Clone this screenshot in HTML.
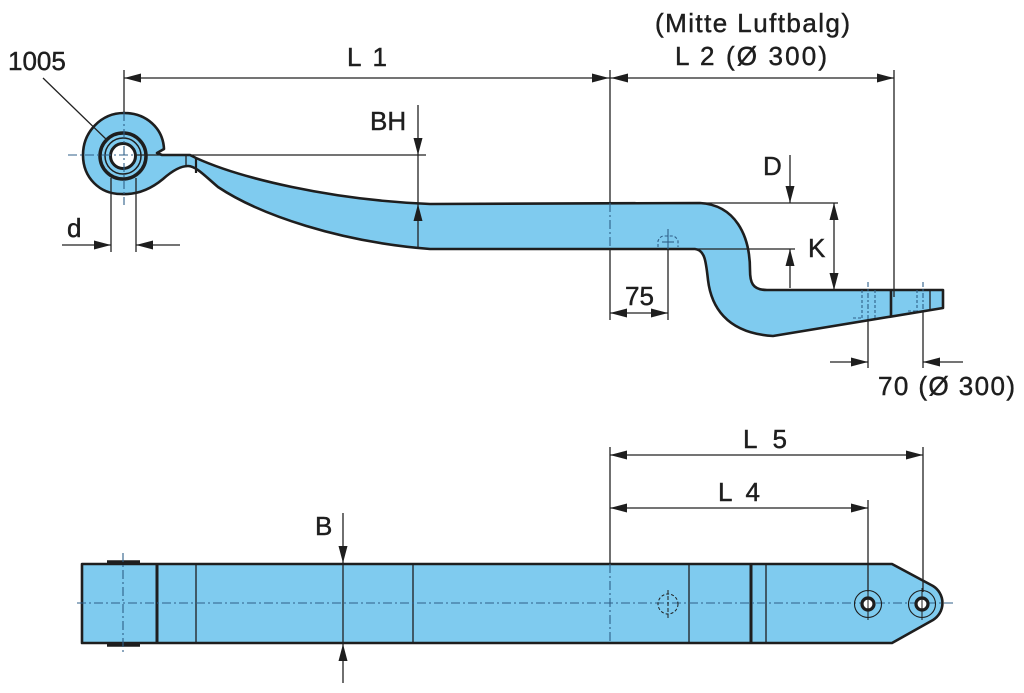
<!DOCTYPE html>
<html><head><meta charset="utf-8"><style>
html,body{margin:0;padding:0;background:#fff;}
svg{display:block;}
text{font-family:"Liberation Sans",Arial,sans-serif;fill:#1e1e1e;stroke:#1e1e1e;stroke-width:0.45;}
</style></head><body>
<svg width="1024" height="693" viewBox="0 0 1024 693" xmlns="http://www.w3.org/2000/svg">
<!-- ===== TOP VIEW ===== -->
<path d="M164 149 C163 128 146 113 124 113 C101 113 83 132 83 155 C83 178 100 194 121 194 C137 195 151 189 163 179 C172 171 180 166 188 166 C196 166 205 176 218 187 C260 215 340 242 430 249 L695 249 C705 250 706 262 708 280 C711 305 725 333 773 336 L943 308 L943 290 L767 290 C752 290 750 282 750 270 C750 235 735 205 700 203 L430 204 C330 200 240 178 196 158 L190 155 L162 155 L157 153 Z" fill="#7fcbef" stroke="#1e1e1e" stroke-width="2.6" stroke-linejoin="round"/>
<!-- bushing -->
<circle cx="123" cy="156" r="23" fill="#7fcbef" stroke="#1e1e1e" stroke-width="3.5"/>
<circle cx="123" cy="156" r="18" fill="none" stroke="#1e1e1e" stroke-width="1.5"/>
<circle cx="123" cy="156" r="12.5" fill="#fff" stroke="#1e1e1e" stroke-width="3"/>
<!-- neck section lines -->
<line x1="186" y1="155" x2="186" y2="167" stroke="#1e1e1e" stroke-width="1.3"/>
<line x1="196" y1="158" x2="196" y2="173" stroke="#1e1e1e" stroke-width="2.2"/>
<!-- eye centre lines -->
<line x1="68" y1="155" x2="150" y2="155" stroke="#2f5f88" stroke-width="1.1" stroke-dasharray="9 3 2 3"/>
<line x1="124" y1="112" x2="124" y2="205" stroke="#2f5f88" stroke-width="1.1" stroke-dasharray="9 3 2 3"/>
<line x1="124" y1="70" x2="124" y2="112" stroke="#222" stroke-width="1.3"/>
<!-- 1005 leader -->
<line x1="43" y1="78" x2="108" y2="141" stroke="#222" stroke-width="1.3"/>
<!-- d dimension -->
<line x1="111" y1="178" x2="111" y2="252" stroke="#222" stroke-width="1.3"/>
<line x1="136" y1="178" x2="136" y2="252" stroke="#222" stroke-width="1.3"/>
<line x1="62" y1="245" x2="111" y2="245" stroke="#222" stroke-width="1.3"/>
<line x1="136" y1="245" x2="180" y2="245" stroke="#222" stroke-width="1.3"/>
<polygon points="111,245 94,240.5 94,249.5" fill="#1e1e1e"/>
<polygon points="136,245 153,240.5 153,249.5" fill="#1e1e1e"/>
<!-- L1 / L2 -->
<line x1="124" y1="78" x2="894" y2="78" stroke="#222" stroke-width="1.3"/>
<polygon points="124,78 141,73.5 141,82.5" fill="#1e1e1e"/>
<polygon points="609,78 592,73.5 592,82.5" fill="#1e1e1e"/>
<polygon points="611,78 628,73.5 628,82.5" fill="#1e1e1e"/>
<polygon points="894,78 877,73.5 877,82.5" fill="#1e1e1e"/>
<line x1="610" y1="70" x2="610" y2="203" stroke="#222" stroke-width="1.3"/>
<line x1="610" y1="203" x2="610" y2="249" stroke="#2f5f88" stroke-width="1.1" stroke-dasharray="9 3 2 3"/>
<line x1="610" y1="249" x2="610" y2="320" stroke="#222" stroke-width="1.3"/>
<line x1="894" y1="70" x2="894" y2="297" stroke="#222" stroke-width="1.3"/>
<!-- BH -->
<line x1="135" y1="155" x2="426" y2="155" stroke="#222" stroke-width="1.3"/>
<line x1="418" y1="105" x2="418" y2="248" stroke="#222" stroke-width="1.3"/>
<polygon points="418,155 413.5,138 422.5,138" fill="#1e1e1e"/>
<polygon points="418,204 413.5,221 422.5,221" fill="#1e1e1e"/>
<!-- hole marker top view -->
<path d="M658 247 L658 241 Q660 236 664 236 L672 236 Q676 236 678 241 L678 247" fill="none" stroke="#2f5f88" stroke-width="1.1" stroke-dasharray="3 2"/>
<line x1="668" y1="229" x2="668" y2="249" stroke="#2f5f88" stroke-width="1.1"/>
<line x1="662" y1="242" x2="674" y2="242" stroke="#2f5f88" stroke-width="1.1"/>
<!-- 75 -->
<line x1="668" y1="249" x2="668" y2="320" stroke="#222" stroke-width="1.3"/>
<line x1="610" y1="313" x2="668" y2="313" stroke="#222" stroke-width="1.3"/>
<polygon points="610,313 627,308.5 627,317.5" fill="#1e1e1e"/>
<polygon points="668,313 651,308.5 651,317.5" fill="#1e1e1e"/>
<!-- D / K -->
<line x1="700" y1="203" x2="838" y2="203" stroke="#222" stroke-width="1.3"/>
<line x1="695" y1="249" x2="795" y2="249" stroke="#222" stroke-width="1.3"/>
<line x1="790" y1="155" x2="790" y2="203" stroke="#222" stroke-width="1.3"/>
<polygon points="790,203 785.5,186 794.5,186" fill="#1e1e1e"/>
<line x1="790" y1="249" x2="790" y2="288" stroke="#222" stroke-width="1.3"/>
<polygon points="790,249 785.5,266 794.5,266" fill="#1e1e1e"/>
<line x1="834" y1="203" x2="834" y2="290" stroke="#222" stroke-width="1.3"/>
<polygon points="834,203 829.5,220 838.5,220" fill="#1e1e1e"/>
<polygon points="834,290 829.5,273 838.5,273" fill="#1e1e1e"/>
<!-- right end section details -->
<line x1="891" y1="290" x2="891" y2="316" stroke="#1e1e1e" stroke-width="2.6"/>
<line x1="862" y1="290" x2="862" y2="318" stroke="#2f5f88" stroke-width="1.1" stroke-dasharray="3 2"/>
<line x1="875" y1="290" x2="875" y2="318" stroke="#2f5f88" stroke-width="1.1" stroke-dasharray="3 2"/>
<line x1="853" y1="318" x2="862" y2="318" stroke="#2f5f88" stroke-width="1.1" stroke-dasharray="3 2"/>
<line x1="868" y1="282" x2="868" y2="319" stroke="#2f5f88" stroke-width="1.1" stroke-dasharray="5 2 2 2"/>
<line x1="917" y1="290" x2="917" y2="311" stroke="#2f5f88" stroke-width="1.1" stroke-dasharray="3 2"/>
<line x1="930" y1="290" x2="930" y2="310" stroke="#1e1e1e" stroke-width="1.3"/>
<line x1="908" y1="311" x2="917" y2="311" stroke="#2f5f88" stroke-width="1.1" stroke-dasharray="3 2"/>
<line x1="923" y1="282" x2="923" y2="311" stroke="#2f5f88" stroke-width="1.1" stroke-dasharray="5 2 2 2"/>
<!-- 70 -->
<line x1="868" y1="319" x2="868" y2="368" stroke="#222" stroke-width="1.3"/>
<line x1="923" y1="311" x2="923" y2="368" stroke="#222" stroke-width="1.3"/>
<line x1="830" y1="362" x2="868" y2="362" stroke="#222" stroke-width="1.3"/>
<line x1="923" y1="362" x2="963" y2="362" stroke="#222" stroke-width="1.3"/>
<polygon points="868,362 851,357.5 851,366.5" fill="#1e1e1e"/>
<polygon points="923,362 940,357.5 940,366.5" fill="#1e1e1e"/>

<!-- ===== BOTTOM VIEW ===== -->
<path d="M82 564 L892 564 L933 586 A20 20 0 0 1 933 620 L892 643 L82 643 Z" fill="#7fcbef" stroke="#1e1e1e" stroke-width="2.6" stroke-linejoin="round"/>
<line x1="107" y1="562" x2="140" y2="562" stroke="#1e1e1e" stroke-width="3.5"/>
<line x1="107" y1="645" x2="140" y2="645" stroke="#1e1e1e" stroke-width="3.5"/>
<line x1="157" y1="564" x2="157" y2="643" stroke="#1e1e1e" stroke-width="3"/>
<line x1="196" y1="564" x2="196" y2="643" stroke="#1e1e1e" stroke-width="1.3"/>
<line x1="413" y1="564" x2="413" y2="643" stroke="#1e1e1e" stroke-width="1.3"/>
<line x1="689" y1="564" x2="689" y2="643" stroke="#1e1e1e" stroke-width="1.3"/>
<line x1="751" y1="564" x2="751" y2="643" stroke="#1e1e1e" stroke-width="3"/>
<line x1="766" y1="564" x2="766" y2="643" stroke="#1e1e1e" stroke-width="1.3"/>
<line x1="123" y1="553" x2="123" y2="655" stroke="#2f5f88" stroke-width="1.1" stroke-dasharray="9 3 2 3"/>
<line x1="77" y1="603" x2="956" y2="603" stroke="#2f5f88" stroke-width="1.1" stroke-dasharray="9 3 2 3"/>
<!-- B -->
<line x1="343" y1="513" x2="343" y2="683" stroke="#222" stroke-width="1.3"/>
<polygon points="343,563 338.5,546 347.5,546" fill="#1e1e1e"/>
<polygon points="343,644 338.5,661 347.5,661" fill="#1e1e1e"/>
<!-- hole marker -->
<circle cx="668" cy="604" r="10" fill="none" stroke="#1e1e1e" stroke-width="1" stroke-dasharray="3 2"/>
<line x1="668" y1="590" x2="668" y2="618" stroke="#1e1e1e" stroke-width="1" stroke-dasharray="4 2"/>
<!-- holes -->
<g stroke="#1e1e1e">
<circle cx="868" cy="604" r="13.5" fill="none" stroke-width="1.1"/>
<circle cx="868" cy="604" r="6" fill="#fff" stroke-width="3.2"/>
<circle cx="922" cy="604" r="13.5" fill="none" stroke-width="1.1"/>
<circle cx="922" cy="604" r="6" fill="#fff" stroke-width="3.2"/>
<line x1="868" y1="588" x2="868" y2="620" stroke-width="1"/>
<line x1="922" y1="588" x2="922" y2="620" stroke-width="1"/>
</g>
<!-- L4 / L5 -->
<line x1="610" y1="447" x2="610" y2="564" stroke="#222" stroke-width="1.3"/>
<line x1="610" y1="564" x2="610" y2="643" stroke="#2f5f88" stroke-width="1.1" stroke-dasharray="9 3 2 3"/>
<line x1="868" y1="500" x2="868" y2="592" stroke="#222" stroke-width="1.3"/>
<line x1="923" y1="447" x2="923" y2="592" stroke="#222" stroke-width="1.3"/>
<line x1="610" y1="455" x2="923" y2="455" stroke="#222" stroke-width="1.3"/>
<polygon points="610,455 627,450.5 627,459.5" fill="#1e1e1e"/>
<polygon points="923,455 906,450.5 906,459.5" fill="#1e1e1e"/>
<line x1="610" y1="508" x2="868" y2="508" stroke="#222" stroke-width="1.3"/>
<polygon points="610,508 627,503.5 627,512.5" fill="#1e1e1e"/>
<polygon points="868,508 851,503.5 851,512.5" fill="#1e1e1e"/>

<!-- ===== TEXT ===== -->
<g font-size="26">
<text x="655" y="32" textLength="195" lengthAdjust="spacing">(Mitte Luftbalg)</text>
<text x="675" y="65" textLength="152" lengthAdjust="spacing">L 2 (Ø 300)</text>
<text x="347" y="66" textLength="40" lengthAdjust="spacing">L 1</text>
<text x="8" y="70">1005</text>
<text x="370" y="130">BH</text>
<text x="67" y="237">d</text>
<text x="763" y="175">D</text>
<text x="808" y="257">K</text>
<text x="625" y="305">75</text>
<text x="878" y="395" textLength="137" lengthAdjust="spacing">70 (Ø 300)</text>
<text x="743" y="448" textLength="44" lengthAdjust="spacing">L 5</text>
<text x="718" y="501" textLength="42" lengthAdjust="spacing">L 4</text>
<text x="315" y="535">B</text>
</g>
</svg>
</body></html>
